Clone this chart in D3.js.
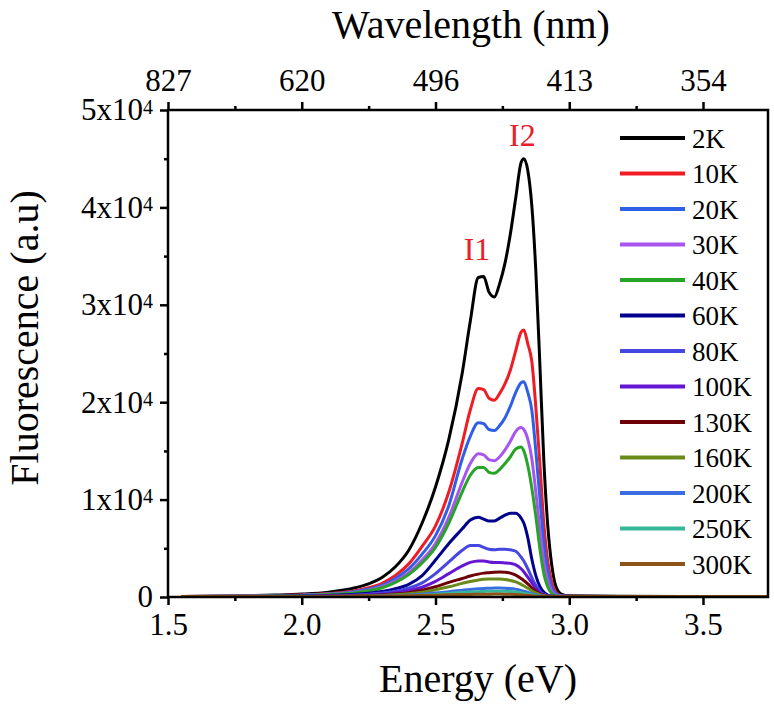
<!DOCTYPE html>
<html>
<head>
<meta charset="utf-8">
<script src="https://cdn.jsdelivr.net/npm/d3@7"></script>
<style>
  body { margin: 0; background: #fff; }
  svg text { fill: #000; }
</style>
</head>
<body>
<div id="chart"></div>
<script>
// Energy grid (eV), shared by all spectra
var energy = [1.55, 1.7, 1.9, 2.0, 2.1, 2.2, 2.25, 2.3, 2.35, 2.4, 2.45, 2.5, 2.55, 2.6, 2.63, 2.66, 2.68, 2.70, 2.72, 2.74, 2.76, 2.78, 2.80, 2.82, 2.83, 2.845, 2.86, 2.875, 2.89, 2.905, 2.92, 2.935, 2.95, 2.97, 3.0, 3.2, 3.5, 3.74];

var labels = ["2K", "10K", "20K", "30K", "40K", "60K", "80K", "100K", "130K", "160K", "200K", "250K", "300K"];
var colors = ["#000000", "#f01c24", "#2f5fe6", "#a855f0", "#27a327", "#00008c", "#4646e0", "#6416d2", "#6e0008", "#6b8a1c", "#3a6ee0", "#36b898", "#8c5418"];

// fluorescence (a.u.), one array per temperature
var f2K   = [60, 100, 200, 300, 500, 950, 1350, 2000, 3100, 4800, 7600, 11300, 16200, 23000, 28300, 32800, 32900, 31300, 30800, 32200, 34300, 37300, 41000, 44600, 45000, 43800, 40200, 33500, 24000, 14000, 7200, 3200, 1100, 300, 120, 80, 60, 50];
var f10K  = [50, 80, 150, 220, 360, 650, 950, 1400, 2200, 3400, 5200, 7300, 10800, 15800, 19200, 21400, 21300, 20400, 20200, 20900, 21900, 23300, 25300, 27200, 27400, 26000, 24200, 19500, 13800, 7500, 3600, 1500, 500, 150, 80, 60, 50, 40];
var f20K  = [45, 70, 130, 190, 310, 560, 820, 1200, 1900, 2900, 4400, 6300, 9400, 14200, 16500, 17900, 17800, 17200, 17100, 17600, 18400, 19600, 21000, 22000, 22100, 21000, 19200, 15000, 10200, 5500, 2600, 1000, 350, 120, 70, 50, 45, 40];
var f30K  = [40, 60, 110, 160, 270, 480, 700, 1050, 1650, 2500, 3800, 5500, 8200, 11800, 13700, 14700, 14600, 14100, 14000, 14400, 15100, 16000, 17000, 17400, 17200, 16200, 14200, 10800, 7000, 3600, 1600, 600, 200, 80, 60, 50, 40, 40];
var f40K  = [40, 55, 100, 150, 250, 440, 640, 950, 1500, 2300, 3500, 5100, 7600, 10800, 12500, 13300, 13300, 12800, 12700, 13100, 13700, 14400, 15200, 15400, 15000, 13500, 11200, 8300, 5000, 2400, 1000, 350, 120, 60, 50, 40, 40, 35];
var f60K  = [30, 40, 70, 100, 160, 270, 380, 560, 850, 1300, 2200, 3800, 5500, 7000, 7900, 8200, 8000, 7800, 7800, 8100, 8400, 8600, 8600, 8100, 7600, 6100, 3900, 2200, 1100, 500, 200, 90, 60, 40, 35, 30, 30, 30];
var f80K  = [25, 35, 55, 80, 120, 200, 280, 400, 600, 900, 1450, 2400, 3600, 4800, 5300, 5300, 5100, 4900, 4850, 4900, 4900, 4850, 4700, 4100, 3700, 2900, 2000, 1200, 600, 280, 120, 70, 50, 35, 30, 30, 25, 25];
var f100K = [20, 30, 45, 60, 90, 150, 200, 290, 430, 650, 1000, 1600, 2400, 3200, 3550, 3700, 3700, 3600, 3550, 3550, 3500, 3450, 3300, 2900, 2600, 2050, 1450, 900, 450, 220, 100, 60, 40, 30, 25, 25, 20, 20];
var f130K = [20, 25, 35, 45, 70, 110, 150, 210, 300, 450, 700, 1050, 1500, 1900, 2150, 2350, 2450, 2500, 2550, 2570, 2550, 2450, 2250, 1900, 1700, 1350, 950, 600, 320, 160, 80, 50, 40, 30, 25, 20, 20, 20];
var f160K = [15, 20, 30, 40, 55, 85, 110, 150, 220, 330, 500, 750, 1050, 1400, 1600, 1750, 1820, 1850, 1850, 1840, 1800, 1700, 1550, 1300, 1150, 900, 650, 420, 230, 120, 60, 40, 30, 25, 20, 20, 15, 15];
var f200K = [10, 15, 20, 25, 35, 50, 65, 90, 130, 190, 280, 400, 550, 700, 780, 840, 880, 900, 920, 920, 910, 870, 800, 680, 600, 480, 350, 230, 130, 70, 40, 25, 20, 15, 15, 15, 10, 10];
var f250K = [10, 10, 15, 20, 25, 35, 45, 60, 85, 125, 180, 260, 360, 460, 510, 550, 575, 590, 600, 600, 590, 565, 520, 440, 390, 310, 230, 150, 85, 45, 25, 15, 12, 10, 10, 10, 10, 10];
var f300K = [40, 45, 50, 55, 60, 70, 80, 95, 110, 130, 160, 190, 220, 250, 265, 280, 290, 295, 300, 300, 295, 285, 265, 230, 210, 175, 140, 105, 80, 65, 55, 50, 45, 45, 45, 45, 45, 45];

var series = [f2K, f10K, f20K, f30K, f40K, f60K, f80K, f100K, f130K, f160K, f200K, f250K, f300K];

var xTicks = [1.5, 2.0, 2.5, 3.0, 3.5];
var yTicks = [0, 10000, 20000, 30000, 40000, 50000];

var width = 774, height = 708;
var pLeft = 168, pRight = 768, pTop = 110, pBottom = 597;
var serif = '"Liberation Serif", "Times New Roman", "DejaVu Serif", serif';

var x = d3.scaleLinear().domain([1.5, 3.743]).range([pLeft, pRight]);
var y = d3.scaleLinear().domain([0, 50000]).range([pBottom, pTop]);

var svg = d3.select("#chart").append("svg")
    .attr("width", width)
    .attr("height", height)
    .style("font-family", serif);

// minor ticks
var xMinor = [1.75, 2.25, 2.75, 3.25];
var yMinor = [5000, 15000, 25000, 35000, 45000];

// curves
var line = d3.line()
    .x(function(d) { return x(d[0]); })
    .y(function(d) { return y(d[1]); })
    .curve(d3.curveMonotoneX);

svg.append("defs").append("clipPath").attr("id", "clip")
  .append("rect").attr("x", pLeft).attr("y", pTop).attr("width", pRight - pLeft).attr("height", pBottom - pTop);

var curves = svg.append("g").attr("clip-path", "url(#clip)");
series.forEach(function(vals, i) {
    curves.append("path")
        .datum(energy.map(function(e, j) { return [e, vals[j]]; }))
        .attr("d", line)
        .attr("fill", "none")
        .attr("stroke", colors[i])
        .attr("stroke-width", 3)
        .attr("stroke-linejoin", "round");
});

// axes
function styleAxis(g) {
    g.attr("font-family", null).attr("font-size", null);
    g.select(".domain").remove();
    g.selectAll(".tick line").attr("stroke", "#000").attr("stroke-width", 2.5);
    g.selectAll(".tick text").style("font-size", "31px");
}

svg.append("g")
    .attr("transform", "translate(0," + pBottom + ")")
    .call(d3.axisBottom(x).tickValues(xTicks).tickSize(8).tickPadding(8).tickFormat(d3.format(".1f")))
    .call(styleAxis);

svg.append("g")
    .attr("transform", "translate(0," + pBottom + ")")
    .call(d3.axisBottom(x).tickValues(xMinor).tickSize(4).tickFormat(""))
    .call(styleAxis);

svg.append("g")
    .attr("transform", "translate(0," + pTop + ")")
    .call(d3.axisTop(x).tickValues(xTicks).tickSize(8).tickPadding(11)
        .tickFormat(function(d) { return Math.round(1239.84 / d); }))
    .call(styleAxis);

svg.append("g")
    .attr("transform", "translate(0," + pTop + ")")
    .call(d3.axisTop(x).tickValues(xMinor).tickSize(4).tickFormat(""))
    .call(styleAxis);

var yLeft = svg.append("g")
    .attr("transform", "translate(" + pLeft + ",0)")
    .call(d3.axisLeft(y).tickValues(yTicks).tickSize(8).tickPadding(7))
    .call(styleAxis);
yLeft.selectAll(".tick text").each(function(d) {
    var t = d3.select(this).text("");
    if (d === 0) { t.text("0"); return; }
    t.append("tspan").text((d / 10000) + "x10");
    t.append("tspan").attr("dy", "-0.34em").style("font-size", "20px").text("4");
});

svg.append("g")
    .attr("transform", "translate(" + pLeft + ",0)")
    .call(d3.axisLeft(y).tickValues(yMinor).tickSize(4).tickFormat(""))
    .call(styleAxis);

// frame
svg.append("rect")
    .attr("x", pLeft).attr("y", pTop)
    .attr("width", pRight - pLeft).attr("height", pBottom - pTop)
    .attr("fill", "none").attr("stroke", "#000").attr("stroke-width", 2.5);

// axis titles
svg.append("text")
    .attr("x", 478).attr("y", 692)
    .attr("text-anchor", "middle").style("font-size", "40px")
    .text("Energy (eV)");

svg.append("text")
    .attr("x", 471).attr("y", 38)
    .attr("text-anchor", "middle").style("font-size", "40px")
    .text("Wavelength (nm)");

svg.append("text")
    .attr("transform", "translate(38,338) rotate(-90)")
    .attr("text-anchor", "middle").style("font-size", "40px")
    .text("Fluorescence (a.u)");

// peak labels
svg.append("text").attr("x", x(2.655)).attr("y", y(34600))
    .attr("text-anchor", "middle").style("font-size", "32px").style("fill", "#e8202a").text("I1");
svg.append("text").attr("x", x(2.825)).attr("y", y(46300))
    .attr("text-anchor", "middle").style("font-size", "32px").style("fill", "#e8202a").text("I2");

// legend
var legend = svg.append("g");
labels.forEach(function(lab, i) {
    var ly = 138 + i * 35.5;
    legend.append("line")
        .attr("x1", 620).attr("x2", 685).attr("y1", ly).attr("y2", ly)
        .attr("stroke", colors[i]).attr("stroke-width", 4);
    legend.append("text")
        .attr("x", 692).attr("y", ly).attr("dy", "0.36em")
        .style("font-size", "27px")
        .text(lab);
});
</script>
</body>
</html>
